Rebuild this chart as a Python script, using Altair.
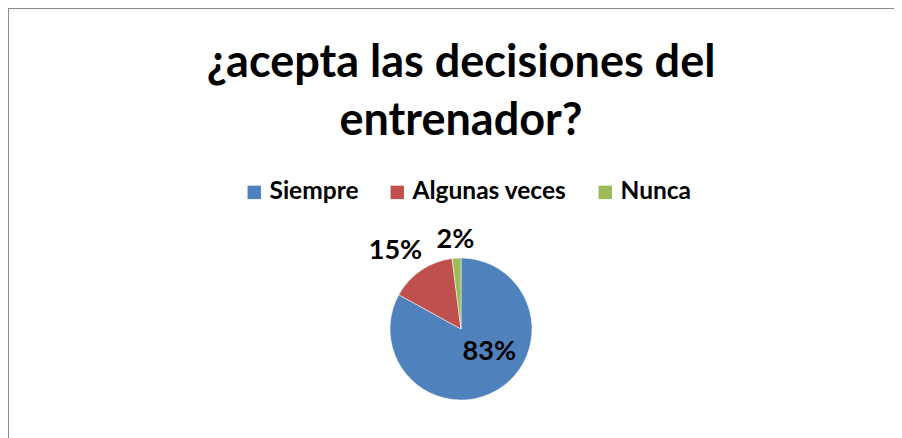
import altair as alt
import pandas as pd

# Data
categories = ["Siempre", "Algunas veces", "Nunca"]
values = [83, 15, 2]
labels = ["83%", "15%", "2%"]
colors = ["#4F81BD", "#C0504D", "#9BBB59"]
title_lines = ["¿acepta las decisiones del", "entrenador?"]

df = pd.DataFrame({"cat": categories, "val": values, "label": labels, "ord": list(range(len(categories)))})

FONT = "Lato"
W, H = 886, 430
CX, CY, R = 453, 321, 71
BORDER = "#8A8A8A"

base = alt.Chart(df)

pie = base.mark_arc(radius=R, stroke="white", strokeWidth=0.5).encode(
    theta=alt.Theta("val:Q", stack=True),
    color=alt.Color(
        "cat:N",
        scale=alt.Scale(domain=categories, range=colors),
        sort=categories,
        legend=alt.Legend(
            title=None,
            orient="none",
            direction="horizontal",
            legendX=234,
            legendY=172,
            symbolType="square",
            symbolSize=180,
            symbolStrokeWidth=0,
            labelFont=FONT,
            labelFontWeight="bold",
            labelFontSize=24.5,
            labelColor="#000000",
            labelOffset=3,
            columnPadding=26,
            labelLimit=300,
        ),
    ),
    order=alt.Order("ord:Q"),
    x=alt.value(CX),
    y=alt.value(CY),
)

layers = []
frame = pd.DataFrame({"k": [0]})
layers.append(alt.Chart(frame).mark_rule(color=BORDER, strokeWidth=2).encode(
    x=alt.value(0), y=alt.value(0), y2=alt.value(H)))
layers.append(alt.Chart(frame).mark_rule(color=BORDER, strokeWidth=2).encode(
    x=alt.value(0), x2=alt.value(W + 10), y=alt.value(0)))
layers.append(pie)

label_style = {
    "Siempre": (36, 10, -8),
    "Algunas veces": (97, -11, 2),
    "Nunca": (89, 0, 0),
}
for cat in categories:
    r, dx, dy = label_style[cat]
    t = (
        base.transform_joinaggregate(total="sum(val)")
        .transform_window(cum="sum(val)", sort=[alt.SortField("ord")], frame=[None, 0])
        .transform_calculate(mid="(datum.cum - datum.val/2) / datum.total * 2 * PI")
        .transform_filter(alt.datum.cat == cat)
        .mark_text(radius=r, dx=dx, dy=dy, font=FONT, fontWeight="bold", fontSize=27,
                   color="#000000", align="center", baseline="middle")
        .encode(
            theta=alt.Theta("mid:Q", scale=None, stack=False),
            text="label:N",
            x=alt.value(CX),
            y=alt.value(CY),
        )
    )
    layers.append(t)

title_df = pd.DataFrame({"line": title_lines, "i": [0, 1]})
for i, line in enumerate(title_lines):
    tt = alt.Chart(title_df).transform_filter(alt.datum.i == i).mark_text(
        font=FONT, fontWeight="bold", fontSize=45, color="#000000",
        align="center", baseline="alphabetic"
    ).encode(text="line:N", x=alt.value(CX), y=alt.value(69 + 58 * i))
    layers.append(tt)

chart = alt.layer(*layers).properties(
    width=W, height=H, padding=0, autosize="none",
    view=alt.ViewBackground(strokeOpacity=0, strokeWidth=0),
).configure_view(strokeWidth=0, strokeOpacity=0).configure(background="white")

chart.save("out.html", embed_options={"renderer": "svg", "actions": False})
